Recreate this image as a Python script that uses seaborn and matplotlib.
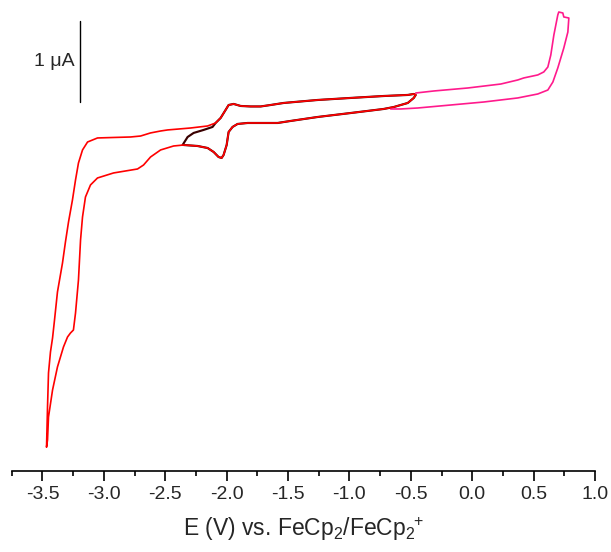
import matplotlib
matplotlib.use("Agg")
import matplotlib.pyplot as plt
from matplotlib.ticker import MultipleLocator
import pandas as pd
import seaborn as sns

# Cyclic voltammograms: potential E (V vs. FeCp2/FeCp2+) and current I (uA, arbitrary offset)

# Wide scan, red: branch running from the negative limit up to the switching point
red_up_E = [-3.467, -3.459, -3.451, -3.435, -3.418, -3.402, -3.378, -3.337, -3.313, -3.288,
            -3.256, -3.231, -3.207, -3.174, -3.133, -3.052, -2.921, -2.783, -2.701, -2.620,
            -2.538, -2.481, -2.294, -2.155, -2.090, -2.049, -2.009, -1.984, -1.943, -1.886,
            -1.805, -1.723, -1.642, -1.536, -1.259, -0.990, -0.721, -0.525, -0.476, -0.460]
red_up_I = [-4.037, -3.543, -3.123, -2.864, -2.691, -2.469, -2.123, -1.765, -1.506, -1.259,
            -0.988, -0.741, -0.531, -0.370, -0.272, -0.222, -0.216, -0.210, -0.198, -0.160,
            -0.136, -0.123, -0.099, -0.074, -0.037, 0.025, 0.123, 0.185, 0.198, 0.173,
            0.167, 0.167, 0.185, 0.210, 0.247, 0.272, 0.296, 0.309, 0.321, 0.309]

# Wide scan, red: return branch from the switching point back to the negative limit
red_down_E = [-0.460, -0.476, -0.525, -0.639, -0.721, -0.990, -1.259, -1.479, -1.585, -1.723,
              -1.829, -1.911, -1.952, -1.984, -2.000, -2.025, -2.041, -2.066, -2.106, -2.155,
              -2.237, -2.351, -2.432, -2.538, -2.620, -2.677, -2.726, -2.921, -3.052, -3.109,
              -3.150, -3.174, -3.190, -3.207, -3.231, -3.248, -3.272, -3.296, -3.329, -3.378,
              -3.418, -3.451, -3.459, -3.467]
red_down_I = [0.309, 0.272, 0.210, 0.160, 0.136, 0.086, 0.037, -0.012, -0.037, -0.037,
              -0.037, -0.049, -0.086, -0.148, -0.309, -0.432, -0.469, -0.457, -0.395, -0.346,
              -0.321, -0.309, -0.321, -0.370, -0.457, -0.556, -0.605, -0.654, -0.716, -0.802,
              -0.951, -1.198, -1.481, -1.975, -2.383, -2.593, -2.630, -2.679, -2.802, -3.049,
              -3.333, -3.667, -3.951, -4.037]

# Narrow scan, black: start at -2.36 V rising onto the shared branch
black_start_E = [-2.359, -2.318, -2.269, -2.188, -2.115]
black_start_I = [-0.309, -0.210, -0.160, -0.123, -0.086]

# Anodic scan, magenta: from -0.66 V up to +0.79 V and back
pink_E = [-0.664, -0.582, -0.444, -0.175, 0.094, 0.371, 0.534, 0.616, 0.657, 0.697,
          0.746, 0.779, 0.787, 0.746, 0.738, 0.705, 0.697, 0.665, 0.640, 0.616,
          0.583, 0.534, 0.420, 0.371, 0.233, -0.036, -0.313, -0.460]
pink_I = [0.136, 0.136, 0.148, 0.185, 0.222, 0.272, 0.321, 0.370, 0.469, 0.642,
          0.889, 1.086, 1.259, 1.272, 1.321, 1.333, 1.296, 1.049, 0.802, 0.654,
          0.593, 0.556, 0.519, 0.494, 0.444, 0.395, 0.358, 0.333]

x_ticks = [-3.5, -3.0, -2.5, -2.0, -1.5, -1.0, -0.5, 0.0, 0.5, 1.0]
scale_bar_uA = 1.0

# assemble traces
red = pd.DataFrame({"E": red_up_E + red_down_E[1:], "I": red_up_I + red_down_I[1:]})
i_up = red_up_E.index(-2.090)
i_dn = red_down_E.index(-2.351)
black = pd.DataFrame({
    "E": black_start_E + red_up_E[i_up:] + red_down_E[1:i_dn + 1],
    "I": black_start_I + red_up_I[i_up:] + red_down_I[1:i_dn + 1],
})
pink = pd.DataFrame({"E": pink_E, "I": pink_I})

sns.set_theme(style="white")
plt.rcParams["font.family"] = ["Liberation Sans", "DejaVu Sans"]
plt.rcParams["axes.unicode_minus"] = False
plt.rcParams["mathtext.fontset"] = "custom"
plt.rcParams["mathtext.rm"] = "Liberation Sans"
plt.rcParams["mathtext.it"] = "Liberation Sans:italic"
plt.rcParams["mathtext.bf"] = "Liberation Sans:bold"

fig = plt.figure(figsize=(6.11, 5.52), dpi=100)
ax = fig.add_axes([0.0193, 0.1473, 0.9545, 0.8437])

kw = dict(x="E", y="I", sort=False, estimator=None, legend=False, ax=ax)
sns.lineplot(data=black, color="#3a0000", linewidth=1.55, zorder=2, **kw)
sns.lineplot(data=pink, color="#ff1a8c", linewidth=1.2, zorder=3, **kw)
sns.lineplot(data=red, color="#ff0000", linewidth=1.2, zorder=4, **kw)

# current scale bar
bar_E = -3.195
bar_lo = 0.222
ax.plot([bar_E, bar_E], [bar_lo, bar_lo + scale_bar_uA], color="black", linewidth=1.0)
ax.text(bar_E - 0.04, bar_lo + scale_bar_uA / 2, "1 μA", ha="right", va="center",
        fontsize=14)

ax.set_xlim(-3.75, 1.0)
ax.set_ylim(-4.33, 1.42)
ax.set_xticks(x_ticks)
ax.set_xticklabels([f"{v:.1f}" for v in x_ticks])
ax.xaxis.set_minor_locator(MultipleLocator(0.25))
ax.set_yticks([])
ax.set_ylabel("")
ax.set_xlabel(r"E (V) vs. FeCp$_2$/FeCp$_2{}^{\!\!+}$", fontsize=16.5, labelpad=9)

for side in ("left", "right", "top"):
    ax.spines[side].set_visible(False)
ax.spines["bottom"].set_color("black")
ax.spines["bottom"].set_linewidth(1.2)
ax.tick_params(axis="x", which="major", direction="out", length=7, width=1.2,
               color="black", labelsize=14, pad=4, bottom=True)
ax.tick_params(axis="x", which="minor", direction="out", length=3.8, width=1.2,
               color="black", bottom=True)

fig.savefig("out.png", dpi=100)
